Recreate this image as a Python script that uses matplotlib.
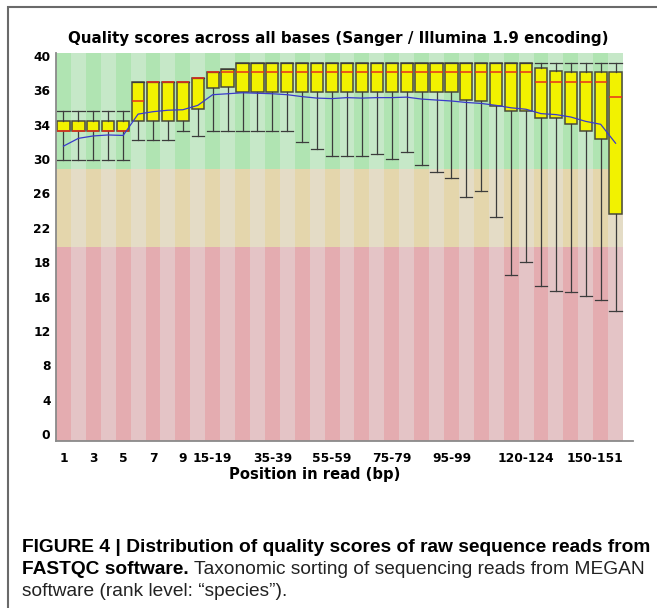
import matplotlib.pyplot as plt
import matplotlib.transforms as mtransforms
from matplotlib.patches import Rectangle
import numpy as np

# position bins along the read
positions = ["1", "2", "3", "4", "5", "6", "7", "8", "9",
             "10-14", "15-19", "20-24", "25-29", "30-34", "35-39", "40-44",
             "45-49", "50-54", "55-59", "60-64", "65-69", "70-74", "75-79",
             "80-84", "85-89", "90-94", "95-99", "100-104", "105-109",
             "110-114", "115-119", "120-124", "125-129", "130-134",
             "135-139", "140-144", "145-149", "150-151"]

# 10th percentile (lower whisker)
p10 = [29, 29, 29, 29, 29, 31, 31, 31, 32, 31.4,
       32, 32, 32, 32, 32, 32, 30.8, 30.1, 29.4, 29.4,
       29.4, 29.55, 29.1, 29.75, 28.5, 27.75, 27.1, 25.15, 25.8, 23.1,
       17.1, 18.5, 16.0, 15.5, 15.35, 15.0, 14.5, 13.4]
# lower quartile
q1 = [32, 32, 32, 32, 32, 33, 33, 33, 33, 34.2,
      36.4, 36.5, 36, 36, 36, 36, 36, 36, 36, 36,
      36, 36, 36, 36, 36, 36, 36, 35.15, 35.0, 34.5,
      34.0, 34.0, 33.3, 33.3, 32.7, 32.0, 31.1, 23.45]
# median
median = [32, 32, 32, 32, 32, 35, 37, 37, 37, 37.4,
          38, 38, 38, 38, 38, 38, 38, 38, 38, 38,
          38, 38, 38, 38, 38, 38, 38, 38, 38, 38,
          38, 38, 37, 37, 37, 37, 37, 35.5]
# upper quartile
q3 = [33, 33, 33, 33, 33, 37, 37, 37, 37, 37.4,
      38, 38.4, 39, 39, 39, 39, 39, 39, 39, 39,
      39, 39, 39, 39, 39, 39, 39, 39, 39, 39,
      39, 39, 38.5, 38.1, 38, 38, 38, 38]
# 90th percentile (upper whisker)
p90 = [34, 34, 34, 34, 34, 37, 37, 37, 37, 37.4,
       38, 38.4, 39, 39, 39, 39, 39, 39, 39, 39,
       39, 39, 39, 39, 39, 39, 39, 39, 39, 39,
       39, 39, 39, 39, 39, 39, 39, 39]
# mean quality
mean = [30.4, 31.2, 31.45, 31.55, 31.5, 33.7, 33.95, 34.1, 34.15, 34.6,
        35.7, 35.8, 35.9, 35.85, 35.8, 35.7, 35.5, 35.35, 35.3, 35.4,
        35.35, 35.4, 35.4, 35.45, 35.25, 35.15, 35.05, 34.9, 34.8, 34.6,
        34.35, 34.2, 33.75, 33.65, 33.4, 32.95, 32.65, 30.7]

# quality bands (good / reasonable / poor)
bands = [(28, 40, "#B0E4B2", "#C6E8C8"),
         (20, 28, "#E4D6AC", "#E4DCC6"),
         (0, 20, "#E4ACB0", "#E4C4C6")]

ytick_labels = ["0", "4", "8", "12", "16", "18", "22", "26", "30", "34", "36", "40"]
shown_ticks = ["1", "3", "5", "7", "9", "15-19", "35-39", "55-59",
               "75-79", "95-99", "120-124", "150-151"]

fig = plt.figure(figsize=(6.57, 6.08), dpi=100)
ax = fig.add_axes([56 / 657, 1 - 441 / 608, 577 / 657, 388 / 608])

x = np.arange(len(positions))

# striped background
for lo, hi, dark, light in bands:
    cols = [dark if i % 2 == 0 else light for i in x]
    ax.bar(x, hi - lo, bottom=lo, width=1.0, color=cols, linewidth=0, zorder=0)

stats = []
for i in range(len(positions)):
    stats.append({"whislo": p10[i], "q1": q1[i], "med": median[i],
                  "q3": q3[i], "whishi": p90[i], "fliers": []})

ax.bxp(stats, positions=x, widths=0.82, capwidths=0.82, patch_artist=True,
       showfliers=False, manage_ticks=False,
       boxprops=dict(facecolor="#F2F200", edgecolor="#4A4A3A", linewidth=1.1),
       medianprops=dict(color="#E8301C", linewidth=1.1),
       whiskerprops=dict(color="#3C3C3C", linewidth=0.9),
       capprops=dict(color="#3C3C3C", linewidth=0.9),
       zorder=2)

ax.plot(x, mean, color="#3A3ACC", linewidth=0.9, zorder=3)

ax.set_xlim(-0.5, len(positions) - 0.5 + 10 / 15)
ax.set_ylim(0, 40)

for s in ["top", "right"]:
    ax.spines[s].set_visible(False)
for s in ["left", "bottom"]:
    ax.spines[s].set_color("#8A8A8A")
    ax.spines[s].set_linewidth(1.3)

ax.set_yticks(np.linspace(0.7, 39.7, len(ytick_labels)))
ax.set_yticklabels(ytick_labels, fontsize=8.8, fontweight="bold")
ax.set_xticks([positions.index(p) for p in shown_ticks])
ax.set_xticklabels(shown_ticks, fontsize=8.8, fontweight="bold")
ax.tick_params(axis="both", length=0)
ax.tick_params(axis="y", pad=4)
ax.tick_params(axis="x", pad=8)

last = ax.get_xticklabels()[-1]
last.set_ha("right")
last.set_transform(last.get_transform() +
                   mtransforms.ScaledTranslation(7.5 / 100, 0, fig.dpi_scale_trans))

fig.text(338 / 657, 1 - 38 / 608,
         "Quality scores across all bases (Sanger / Illumina 1.9 encoding)",
         ha="center", va="center", fontsize=10.9, fontweight="bold")
fig.text(315 / 657, 1 - 474 / 608, "Position in read (bp)",
         ha="center", va="center", fontsize=10.6, fontweight="bold")

# caption: sized so the first two lines span the same width as the original
cap_font = "Liberation Sans"
renderer = fig.canvas.get_renderer()
line1 = fig.text(22 / 657, 1 - 548 / 608,
                 "FIGURE 4 | Distribution of quality scores of raw sequence reads from",
                 ha="left", va="center", fontsize=12, fontweight="bold",
                 family=cap_font)
t_bold = fig.text(22 / 657, 1 - 570 / 608, "FASTQC software.",
                  ha="left", va="center", fontsize=12, fontweight="bold",
                  family=cap_font)
t_reg = ax.annotate(" Taxonomic sorting of sequencing reads from MEGAN",
                    xy=(1, 0.5), xycoords=t_bold, ha="left", va="center",
                    fontsize=12, family=cap_font, color="#222222",
                    annotation_clip=False)
w1 = line1.get_window_extent(renderer).width
w2 = (t_bold.get_window_extent(renderer).width +
      t_reg.get_window_extent(renderer).width)
cap_size = 12 * min(624 / w1, 624 / w2)
for t in (line1, t_bold, t_reg):
    t.set_fontsize(cap_size)
fig.text(22 / 657, 1 - 592 / 608, "software (rank level: \u201cspecies\u201d).",
         ha="left", va="center", fontsize=cap_size, family=cap_font,
         color="#222222")

# outer frame
fig.add_artist(Rectangle((8 / 657, -0.05), 1.2, 1 - 7 / 608 + 0.05,
                         transform=fig.transFigure, fill=False,
                         edgecolor="#6A6A6A", linewidth=1.5))

fig.savefig("out.png", dpi=100)
